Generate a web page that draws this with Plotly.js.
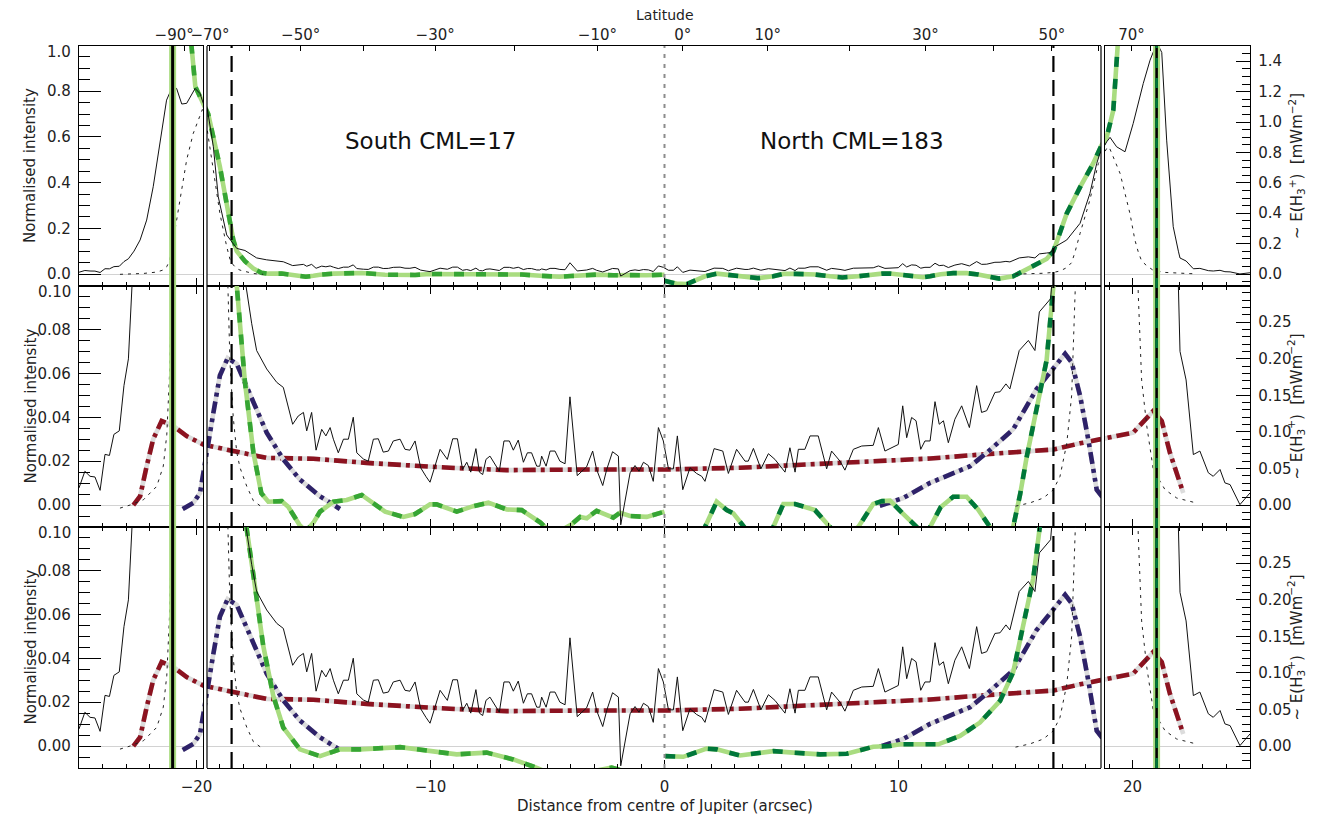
<!DOCTYPE html>
<html><head><meta charset="utf-8">
<script src="https://cdn.plot.ly/plotly-3.0.1.min.js"></script>
<style>html,body{margin:0;padding:0;background:#fff}#chart{width:1326px;height:821px}</style>
</head><body><div id="chart"></div>
<script>
// ---------------- DATA (x in arcsec, y in normalised intensity) ----------------
const observedProfile = [
[-25.02,0.0078],[-24.77,0.0154],[-24.55,0.0131],[-24.34,0.0128],[-24.12,0.0067],[-23.91,0.0231],[-23.72,0.0226],[-23.53,0.0322],[-23.30,0.0338],[-23.10,0.0544],[-22.91,0.0666],[-22.77,0.088],[-22.67,0.1002],[-22.41,0.149],[-22.13,0.236],[-21.85,0.382],[-21.56,0.586],[-21.28,0.761],[-21.02,0.822],[-20.85,0.812],[-20.63,0.744],[-20.42,0.747],[-20.06,0.812],[-19.85,0.790],[-19.71,0.747],[-19.54,0.725],[-19.28,0.557],[-19.07,0.338],[-18.71,0.171],[-18.28,0.112],[-17.93,0.103],[-17.64,0.0826],[-17.43,0.0704],[-17.0,0.062],[-16.57,0.0559],[-16.29,0.0536],[-15.89,0.0368],[-15.65,0.0406],[-15.43,0.0422],[-15.29,0.0338],[-15.08,0.0422],[-14.89,0.025],[-14.65,0.0345],[-14.47,0.0315],[-14.29,0.0353],[-14.15,0.030],[-13.94,0.0238],[-13.72,0.030],[-13.51,0.030],[-13.30,0.040],[-13.15,0.0238],[-12.87,0.021],[-12.66,0.020],[-12.44,0.030],[-12.23,0.0302],[-12.02,0.0241],[-11.80,0.0246],[-11.59,0.0292],[-11.30,0.030],[-11.09,0.0254],[-10.88,0.025],[-10.66,0.0292],[-10.42,0.017],[-10.19,0.013],[-10.02,0.0104],[-9.81,0.0177],
[-9.59,0.0254],[-9.28,0.0208],[-9.05,0.0302],[-8.85,0.0302],[-8.63,0.0162],[-8.45,0.0195],[-8.28,0.0150],[-8.06,0.0257],[-7.91,0.0150],[-7.77,0.0139],[-7.63,0.0208],[-7.46,0.0223],[-7.24,0.0185],[-7.06,0.0154],[-6.86,0.0292],[-6.63,0.0292],[-6.46,0.0250],[-6.25,0.0296],[-6.03,0.0195],[-5.86,0.0238],[-5.68,0.0238],[-5.46,0.0177],[-5.33,0.0177],[-5.25,0.0223],[-5.06,0.0177],[-4.89,0.0246],[-4.68,0.0246],[-4.47,0.0200],[-4.25,0.0188],[-4.04,0.0493],[-3.73,0.0134],[-3.33,0.0174],[-3.07,0.0246],[-2.90,0.0162],[-2.64,0.0089],[-2.47,0.0162],[-2.22,0.0243],[-1.97,0.0223],[-1.87,-0.0090],[-1.47,0.0147],[-1.26,0.0180],[-1.09,0.0154],[-0.90,0.0195],[-0.69,0.0180],[-0.48,0.0108],[-0.26,0.0353],[-0.05,0.0292],[0.17,0.0165],[0.38,0.0165],[0.55,0.0315],[0.78,0.0070],[1.09,0.0170],[1.37,0.0144],[1.59,0.0131],[1.73,0.0108],[2.12,0.0257],[2.49,0.0246],[2.73,0.0144],[3.08,0.0254],[3.44,0.0200],[3.58,0.0200],[3.80,0.0258],[4.12,0.0165],[4.44,0.0234],[4.72,0.0208],[5.15,0.0150],[5.36,0.0261],[5.58,0.0150],[5.72,0.0254],[6.00,0.0254],[6.22,0.0315],[6.57,0.0315],[6.93,0.0165],[7.14,0.0246],[7.50,0.0200],[7.71,0.0159],[8.07,0.0254],[8.43,0.0269],[8.92,0.0272],[9.14,0.0353],
[9.42,0.0246],[9.99,0.0276],[10.18,0.0452],[10.35,0.0307],[10.56,0.0399],[10.75,0.0384],[10.95,0.0254],[11.13,0.0292],[11.35,0.0292],[11.56,0.0471],[11.74,0.0368],[11.92,0.0384],[12.13,0.0284],[12.41,0.0391],[12.70,0.0452],[13.03,0.0353],[13.34,0.0544],[13.55,0.0422],[13.77,0.043],[14.12,0.0513],[14.34,0.0516],[14.59,0.0552],[14.76,0.0529],[15.16,0.0704],[15.55,0.075],[15.83,0.0704],[16.02,0.088],[16.33,0.0918],[16.50,0.094],[16.69,0.119],[17.19,0.149],[17.76,0.222],[18.18,0.353],[18.47,0.484],[18.61,0.528],[18.90,0.579],[19.04,0.598],[19.32,0.557],[19.68,0.535],[20.03,0.659],[20.46,0.834],[20.75,0.936],[20.96,0.99],[21.10,1.0],[21.25,0.97],[21.46,0.586],[21.74,0.207],[21.96,0.100],[22.03,0.070],[22.29,0.057],[22.60,0.023],[22.88,0.0246],[23.24,0.0147],[23.45,0.0131],[23.74,0.0162],[23.95,0.0101],[24.17,0.0093],[24.59,0.0002],[25.02,0.0055]
];
const modelSouth = [[-23.27,-0.0014],[-22.84,0.0],[-22.27,0.0024],[-21.7,0.0085],[-21.42,0.0177],[-21.27,0.032],[-21.15,0.06],[-20.99,0.149],[-20.7,0.324],[-20.42,0.5],[-20.14,0.615],[-19.85,0.696],[-19.75,0.72],[-19.54,0.63],[-19.28,0.455],[-19.0,0.265],[-18.71,0.12],[-18.57,0.065],[-18.43,0.04],[-18.28,0.024],[-18.14,0.017],[-17.85,0.0085],[-17.57,0.002],[-17.15,-0.0014]];
const modelNorth = [[15.0,-0.0005],[15.62,0.001],[16.19,0.0032],[16.62,0.007],[16.9,0.013],[17.19,0.028],[17.4,0.05],[17.54,0.095],[17.76,0.178],[18.18,0.324],[18.54,0.484],[18.9,0.55],[19.0,0.556],[19.47,0.44],[19.89,0.265],[20.1,0.15],[20.25,0.095],[20.39,0.057],[20.61,0.036],[20.89,0.016],[21.39,0.007],[21.89,0.0032],[22.46,0.0017],[22.7,0.001]];
const redProfile = [[-22.7,0.0],[-22.41,0.004],[-22.13,0.0177],[-21.85,0.03],[-21.49,0.0383],[-20.99,0.036],[-20.42,0.0314],[-19.71,0.0276],[-18.43,0.0246],[-17.0,0.0215],[-15.01,0.0211],[-12.73,0.0192],[-9.17,0.017],[-6.74,0.0159],[-3.18,0.0162],[0.03,0.0162],[3.23,0.017],[6.08,0.0185],[9.64,0.0205],[11.35,0.0212],[13.48,0.023],[15.62,0.0246],[16.62,0.0253],[17.76,0.0281],[18.61,0.030],[20.03,0.033],[20.89,0.0429],[21.25,0.0383],[21.6,0.0238],[22.17,0.0055]];
const purpleSouth = [[-20.59,-0.0018],[-20.14,0.0009],[-19.85,0.0055],[-19.54,0.0238],[-19.28,0.042],[-19.0,0.059],[-18.67,0.0669],[-18.28,0.0643],[-17.57,0.0467],[-17.0,0.033],[-16.29,0.0208],[-15.58,0.0116],[-14.72,0.004],[-13.87,-0.0018]];
const purpleNorth = [[9.2,-0.0003],[10.2,0.0032],[11.35,0.0101],[13.06,0.0177],[13.77,0.0238],[14.9,0.0345],[15.9,0.0528],[16.62,0.062],[17.12,0.0689],[17.4,0.065],[17.76,0.0498],[18.11,0.0299],[18.47,0.007],[18.75,0.0032]];
const greenSouthA = [[-20.4,1.2],[-20.14,0.95],[-20.05,0.82],[-19.5,0.70],[-19.0,0.47],[-18.43,0.15],[-18.28,0.10],[-17.93,0.056],[-17.57,0.024],[-17.23,0.0054],[-16.93,0.0015],[-16.36,0.0018],[-16.08,-0.0008],[-15.6,-0.009],[-15.33,-0.012],[-15.0,-0.008],[-14.72,-0.003],[-14.15,0.0015],[-13.58,0.0023],[-12.94,0.0046],[-11.94,-0.003],[-11.16,-0.0054],[-10.66,-0.0041],[-10.02,0.0003],[-9.74,0.0003],[-8.88,-0.003],[-8.17,-0.0005],[-7.53,0.0011],[-6.74,-0.002],[-6.10,-0.0023],[-5.3,-0.008],[-4.9,-0.012],[-4.5,-0.012],[-4.0,-0.009],[-3.61,-0.0054],[-3.32,-0.006],[-2.9,-0.0026],[-2.19,-0.0057],[-1.90,-0.0035],[-1.47,-0.005],[-0.76,-0.0054],[0,-0.003]];
const greenNorthA = [[0.0,-0.03],[0.5,-0.042],[0.95,-0.044],[1.5,-0.02],[1.73,-0.01],[2.23,0.0015],[2.66,-0.0023],[2.94,-0.0038],[3.37,-0.010],[4.0,-0.018],[4.65,-0.01],[5.08,0.0005],[5.58,0.0005],[6.43,-0.0023],[7.07,-0.01],[7.6,-0.015],[8.28,-0.01],[8.92,0.0005],[9.3,0.0018],[9.64,0.002],[10.2,-0.004],[10.78,-0.01],[11.05,-0.014],[11.35,-0.01],[11.8,-0.001],[12.34,0.0038],[12.91,0.0038],[13.4,-0.002],[13.91,-0.01],[14.3,-0.02],[14.9,-0.01],[15.2,0.005],[15.48,0.022],[15.9,0.045],[16.33,0.066],[16.62,0.10],[17.19,0.265],[17.76,0.38],[18.32,0.484],[18.68,0.564],[18.9,0.60],[19.18,0.717],[19.39,1.0],[19.5,1.2]];
const greenSouthB = [[-18.3,0.14],[-17.88,0.1008],[-17.57,0.078],[-17.15,0.0458],[-16.72,0.0229],[-16.29,0.0084],[-15.58,-0.0015],[-14.72,-0.0046],[-13.87,-0.0015],[-13.01,-0.0015],[-11.3,-0.0005],[-10.59,-0.0015],[-9.59,-0.003],[-8.88,-0.0038],[-7.6,-0.003],[-6.46,-0.0061],[-5.46,-0.0099],[-4.6,-0.014],[-3.3,-0.012],[-2.26,-0.0098],[-1.2,-0.013],[0,-0.015]];
const greenNorthB = [[0.03,-0.0046],[0.8,-0.0049],[1.8,-0.0012],[2.23,-0.0015],[3.23,-0.0043],[4.65,-0.0023],[5.5,-0.003],[6.65,-0.0038],[7.79,-0.0035],[8.92,-0.0003],[9.64,0.0],[10.06,0.0008],[11.7,0.0008],[12.63,0.0046],[13.48,0.0107],[14.34,0.0206],[14.9,0.0336],[15.33,0.055],[15.76,0.0764],[16.05,0.1008],[16.4,0.14]];
const limbX = [-21.02, 21.03];
const ovalX = [-18.5, 16.62];
const centreX = [0];
const latitudeTicks = [-90,-80,-70,-60,-50,-40,-30,-20,-10,0,10,20,30,40,50,60,70,80,90];
const labelledLatitudes = [-90,-70,-50,-30,-10,0,10,30,50,70];
const latitudeLabels = ['−90°','−70°','−50°','−30°','−10°','0°','10°','30°','50°','70°'];
const topLeftLabels = ['1.0','0.10','0.10'];
const panelLabels = ['South CML=17','North CML=183'];
const leftTitle = 'Normalised intensity';
const rightTitle = '~ E(H<sub>3</sub><sup>+</sup>)  [mWm<sup>−2</sup>]';

// ---------------- GEOMETRY ----------------
const W=1326,H=821,ML=79,MR=76,MT=46,MB=53;
const plotW=W-ML-MR, plotH=H-MT-MB;
const PX0=664.5, PXU=23.4;           // pixel of x=0, pixels per arcsec
const segPx=[[79,203],[207,1101],[1105,1250]];
const rowPx=[[46,286],[286,527],[527,768]];
const toData=px=>(px-PX0)/PXU;
const xRanges=segPx.map(p=>[toData(p[0]),toData(p[1])]);
const xDom=s=>[(segPx[s][0]-ML)/plotW,(segPx[s][1]-ML)/plotW];
const yDom=r=>[(MT+plotH-rowPx[r][1])/plotH,(MT+plotH-rowPx[r][0])/plotH];
const leftRanges=[[-0.0525,0.998],[-0.01,0.0998],[-0.01,0.0998]];
const rightRanges=[[-0.07875,1.5],[-0.03,0.2995],[-0.03,0.2995]];
const latToX=lat=>20.97*Math.sin((lat+2.14)*Math.PI/180);
const py=(v)=>(MT+plotH-v)/plotH; // pixel row -> paper y

const xa=(r,s)=>{const n=r*3+s+1;return n===1?'x':'x'+n;};
const yL=r=>r===0?'y':'y'+(r+1);
const yR=r=>'y'+(r+4);
const key=id=>id.replace(/^x/,'xaxis').replace(/^y/,'yaxis');

const C={lg:'#a9dc80',mg:'#36a534',dg:'#00773a',red:'#8c1320',pur:'#2e2269',grey:'#dcdcdc',blk:'#111'};
const traces=[];
function add(pts,rows,line){
  const xs=pts.map(p=>p[0]), ys=pts.map(p=>p[1]);
  const mn=Math.min(...xs), mx=Math.max(...xs);
  rows.forEach(r=>{for(let s=0;s<3;s++){
    if(mx<xRanges[s][0]||mn>xRanges[s][1]) continue;
    traces.push({type:'scatter',mode:'lines',x:xs,y:ys,xaxis:xa(r,s),yaxis:yL(r),line:line,hoverinfo:'skip',showlegend:false});
  }});
}
function add2(pts,rows,base,over){add(pts,rows,base);add(pts,rows,over);}
const baseW=4.6;
add2(redProfile,[1,2],{color:C.grey,width:baseW},{color:C.red,width:baseW,dash:'13px,5px,4px,5px'});
[purpleSouth,purpleNorth].forEach(p=>add2(p,[1,2],{color:C.grey,width:baseW},{color:C.pur,width:baseW,dash:'12px,5px,4px,5px,4px,5px'}));
add2(greenSouthA,[0,1],{color:C.lg,width:baseW},{color:C.mg,width:baseW,dash:'10px,12px'});
add2(greenNorthA,[0,1],{color:C.lg,width:baseW},{color:C.dg,width:baseW,dash:'10px,12px'});
add2(greenSouthB,[2],{color:C.lg,width:baseW},{color:C.mg,width:baseW,dash:'10px,12px'});
add2(greenNorthB,[2],{color:C.lg,width:baseW},{color:C.dg,width:baseW,dash:'10px,12px'});
[modelSouth,modelNorth].forEach(p=>add(p,[0,1,2],{color:'#222',width:1,dash:'3px,5px'}));
add(observedProfile,[0,1,2],{color:C.blk,width:1});
for(let r=0;r<3;r++) traces.push({type:'scatter',x:[],y:[],xaxis:xa(r,2),yaxis:yR(r),showlegend:false});
traces.push({type:'scatter',x:[],y:[],xaxis:'x10',yaxis:'y7',showlegend:false});
traces.push({type:'scatter',x:[],y:[],xaxis:'x11',yaxis:'y7',showlegend:false});

const tickfont={size:15,color:'#222',family:'DejaVu Sans, sans-serif'};
const layout={width:W,height:H,margin:{l:ML,r:MR,t:MT,b:MB},paper_bgcolor:'#fff',plot_bgcolor:'rgba(0,0,0,0)',
  font:{family:'DejaVu Sans, sans-serif',color:'#222',size:15},showlegend:false,annotations:[],shapes:[]};
const ann=o=>layout.annotations.push(Object.assign({showarrow:false,xanchor:'center',yanchor:'middle'},o));
for(let r=0;r<3;r++){
  for(let s=0;s<3;s++){
    layout[key(xa(r,s))]={domain:xDom(s),range:xRanges[s],anchor:yL(r),showline:true,linecolor:'#000',linewidth:1.2,
      mirror:r===0?true:'ticks',ticks:'inside',ticklen:8,tickwidth:1,tickcolor:'#000',tick0:0,dtick:10,
      minor:{dtick:1,tick0:0,ticklen:4,ticks:'inside',tickcolor:'#000',tickwidth:1},
      showgrid:false,zeroline:false,showticklabels:r===2,tickfont:tickfont,ticklabelstandoff:5,fixedrange:true};
  }
  layout[key(yL(r))]={domain:yDom(r),range:leftRanges[r],anchor:xa(r,0),showline:true,mirror:true,linecolor:'#000',linewidth:1.2,
    ticks:'inside',ticklen:22,tickwidth:1,tickcolor:'#000',tick0:0,dtick:r===0?0.2:0.02,tickformat:r===0?'.1f':'.2f',
    minor:{dtick:r===0?0.05:0.005,tick0:0,ticklen:11,ticks:'inside',tickcolor:'#000',tickwidth:1},
    showgrid:false,zeroline:true,zerolinecolor:'#d2d2d2',zerolinewidth:1,tickfont:tickfont,ticklabelstandoff:4,fixedrange:true};
  layout[key(yR(r))]={overlaying:yL(r),side:'right',anchor:xa(r,2),range:rightRanges[r],showline:true,mirror:true,linecolor:'#000',linewidth:1.2,
    ticks:'inside',ticklen:14,tickwidth:1,tickcolor:'#000',tick0:0,dtick:r===0?0.2:0.05,tickformat:r===0?'.1f':'.2f',
    minor:{dtick:r===0?0.05:0.01,tick0:0,ticklen:8,ticks:'inside',tickcolor:'#000',tickwidth:1},
    showgrid:false,zeroline:false,tickfont:tickfont,ticklabelstandoff:4,fixedrange:true};
  // top-most left tick label, drawn just below the frame edge as in the original
  ann({text:topLeftLabels[r],xref:'paper',x:(73-ML)/plotW,xanchor:'right',yref:yL(r)+' domain',y:1,yshift:-6,font:tickfont});
  ann({text:leftTitle,textangle:-90,xref:'paper',x:(30-ML)/plotW,yref:yL(r)+' domain',y:0.5,font:{size:15,color:'#222'}});
  ann({text:rightTitle,textangle:-90,xref:'paper',x:(1296-ML)/plotW,yref:yL(r)+' domain',y:0.5,font:{size:15,color:'#222'}});
}
layout.yaxis7={domain:yDom(0),range:[0,1],visible:false,fixedrange:true};
const latRange=[toData(ML),toData(ML+plotW)];
layout.xaxis10={domain:[0,1],range:latRange,anchor:'y7',side:'top',tickmode:'array',tickangle:0,
  tickvals:labelledLatitudes.map(latToX),ticktext:latitudeLabels,ticks:'',
  showline:false,showgrid:false,zeroline:false,tickfont:tickfont,ticklabelstandoff:2,fixedrange:true};
layout.xaxis11={overlaying:'x10',range:latRange,anchor:'y7',side:'top',tickmode:'array',
  tickvals:latitudeTicks.map(latToX),showticklabels:false,ticks:'inside',ticklen:5,tickcolor:'#000',
  showline:false,showgrid:false,zeroline:false,fixedrange:true};
ann({text:panelLabels[0],xref:'x2',yref:'y',x:toData(430),y:0.583,font:{size:23,color:'#111'}});
ann({text:panelLabels[1],xref:'x2',yref:'y',x:toData(852),y:0.583,font:{size:23,color:'#111'}});
ann({text:'Latitude',xref:'paper',yref:'paper',x:(665-ML)/plotW,y:py(15),font:{size:14,color:'#222'}});
ann({text:'Distance from centre of Jupiter (arcsec)',xref:'paper',yref:'paper',x:(665-ML)/plotW,y:py(806),font:{size:15,color:'#222'}});
[0,1].forEach(v=>layout.shapes.push({type:'line',xref:'x2 domain',yref:'paper',x0:v,x1:v,y0:0,y1:1,line:{color:'#000',width:1.2},layer:'above'}));
const segOf=v=>{for(let s=0;s<3;s++){if(v>=xRanges[s][0]&&v<=xRanges[s][1])return s;}return 1;};
const vline=(v,line)=>layout.shapes.push({type:'line',xref:xa(0,segOf(v)),yref:'paper',x0:v,x1:v,y0:0,y1:1,line:line,layer:'above'});
centreX.forEach(v=>vline(v,{color:'#8c8c8c',width:2,dash:'4px,6px'}));
ovalX.forEach(v=>vline(v,{color:'#000',width:2.2,dash:'16px,8px'}));
vline(limbX[0],{color:C.lg,width:7});
vline(limbX[0],{color:'#000',width:3});
vline(limbX[1],{color:C.lg,width:7});
vline(limbX[1],{color:'#000',width:2.6});
vline(limbX[1],{color:C.dg,width:2.6,dash:'10px,10px'});

Plotly.newPlot('chart',traces,layout,{displayModeBar:false,staticPlot:true});
</script></body></html>
